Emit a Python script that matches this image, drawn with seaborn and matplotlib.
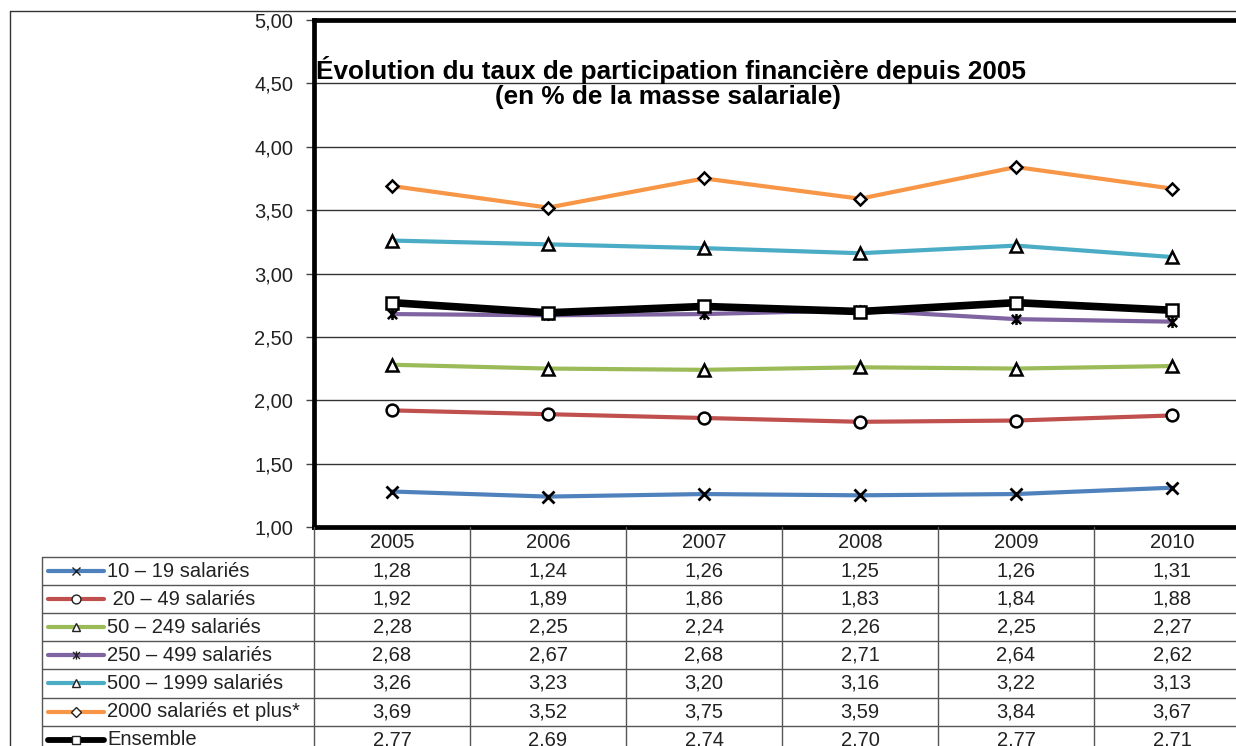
import numpy as np
import pandas as pd
import matplotlib
matplotlib.use("Agg")
import matplotlib.pyplot as plt
import seaborn as sns
from matplotlib.lines import Line2D
from matplotlib.path import Path
from matplotlib.transforms import blended_transform_factory

# ---- data -------------------------------------------------------------
years = ["2005", "2006", "2007", "2008", "2009", "2010"]

taux_10_19 = [1.28, 1.24, 1.26, 1.25, 1.26, 1.31]
taux_20_49 = [1.92, 1.89, 1.86, 1.83, 1.84, 1.88]
taux_50_249 = [2.28, 2.25, 2.24, 2.26, 2.25, 2.27]
taux_250_499 = [2.68, 2.67, 2.68, 2.71, 2.64, 2.62]
taux_500_1999 = [3.26, 3.23, 3.20, 3.16, 3.22, 3.13]
taux_2000_plus = [3.69, 3.52, 3.75, 3.59, 3.84, 3.67]
taux_ensemble = [2.77, 2.69, 2.74, 2.70, 2.77, 2.71]

series_labels = ["10 – 19 salariés", " 20 – 49 salariés", "50 – 249 salariés",
                 "250 – 499 salariés", "500 – 1999 salariés",
                 "2000 salariés et plus*", "Ensemble"]
series_values = [taux_10_19, taux_20_49, taux_50_249, taux_250_499,
                 taux_500_1999, taux_2000_plus, taux_ensemble]

ytick_values = [1.0, 1.5, 2.0, 2.5, 3.0, 3.5, 4.0, 4.5, 5.0]
ytick_labels = ["1,00", "1,50", "2,00", "2,50", "3,00", "3,50", "4,00", "4,50", "5,00"]

title_line1 = "Évolution du taux de participation financière depuis 2005"
title_line2 = "(en % de la masse salariale)"

# star marker: an X crossed by a vertical bar
star_marker = Path([(-1, -1), (1, 1), (-1, 1), (1, -1), (0, -1.2), (0, 1.2)],
                   [Path.MOVETO, Path.LINETO, Path.MOVETO, Path.LINETO,
                    Path.MOVETO, Path.LINETO])

# ---- styles -------------------------------------------------------------
styles = [
    dict(color="#4F81BD", lw=3.0, marker="x", ms=8, mfc="none", mew=2.0),
    dict(color="#C0504D", lw=3.0, marker="o", ms=8.5, mfc="white", mew=1.8),
    dict(color="#9BBB59", lw=3.0, marker="^", ms=8.5, mfc="white", mew=1.8),
    dict(color="#8064A2", lw=3.0, marker=star_marker, ms=8, mfc="none", mew=1.8),
    dict(color="#4BACC6", lw=3.0, marker="^", ms=8.5, mfc="white", mew=1.8),
    dict(color="#F79646", lw=3.0, marker="D", ms=6.5, mfc="white", mew=1.8),
    dict(color="black", lw=5.5, marker="s", ms=8.5, mfc="white", mew=1.8),
]

sns.set_theme(style="white")
plt.rcParams["font.family"] = ["Liberation Sans", "DejaVu Sans"]

W, H = 1236, 746
fig = plt.figure(figsize=(W / 100, H / 100), dpi=100)
fig.patch.set_facecolor("white")


def fx(px):
    return px / W


def fy(py):
    return 1 - py / H


ax = fig.add_axes([fx(314), fy(527), 936 / W, 507 / H])

xpos = np.arange(len(years))
for vals, st, z in zip(series_values, styles, range(3, 10)):
    df = pd.DataFrame({"annee": xpos, "taux": vals})
    sns.lineplot(data=df, x="annee", y="taux", ax=ax, color=st["color"],
                 linewidth=st["lw"], marker=st["marker"], markersize=st["ms"],
                 markerfacecolor=st["mfc"], markeredgecolor="black",
                 markeredgewidth=st["mew"], legend=False, zorder=z)

ax.set_xlim(-0.5, len(years) - 0.5)
ax.set_ylim(1, 5)
ax.set_xticks([])
ax.set_yticks(ytick_values)
ax.set_yticklabels(ytick_labels)
ax.set_xlabel("")
ax.set_ylabel("")
ax.yaxis.grid(True, color="#333333", linewidth=1.0)
ax.set_axisbelow(True)
for side in ["left", "top", "bottom"]:
    ax.spines[side].set_linewidth(3.4)
    ax.spines[side].set_color("black")
ax.spines["right"].set_visible(False)
ax.tick_params(axis="y", left=True, length=6, width=1, color="#444444",
               pad=9, labelsize=14.5, labelcolor="#222222")

# title inside the plot area
fig.text(fx(671), fy(70), title_line1, ha="center", va="center",
         fontsize=18.8, fontweight="bold", color="black")
fig.text(fx(668), fy(97), title_line2, ha="center", va="center",
         fontsize=18.8, fontweight="bold", color="black")

# outer frame of the chart area
line_kw = dict(color="#333333", linewidth=1.0)
fig.add_artist(Line2D([fx(10), 1], [fy(11), fy(11)], transform=fig.transFigure, **line_kw))
fig.add_artist(Line2D([fx(10), fx(10)], [fy(11), 0], transform=fig.transFigure, **line_kw))

# ---- data table under the plot ---------------------------------------------
trans = blended_transform_factory(ax.transData, fig.transFigure)
tab_kw = dict(color="#555555", linewidth=1.0)
header_y = fy(543)
row_top = 557
row_h = 28.1
n_rows = len(series_labels)

for b in np.arange(-0.5, len(years), 1.0):
    fig.add_artist(Line2D([b, b], [fy(527), 0], transform=trans, **tab_kw))
fig.add_artist(Line2D([fx(42), fx(42)], [fy(row_top), 0], transform=fig.transFigure, **tab_kw))
for i in range(n_rows):
    yb = row_top + i * row_h
    fig.add_artist(Line2D([fx(42), 1], [fy(yb), fy(yb)], transform=fig.transFigure, **tab_kw))

for i, yr in enumerate(years):
    fig.text(i, header_y, yr, transform=trans, ha="center", va="center",
             fontsize=14.5, color="#222222")

for r, (lab, vals, st) in enumerate(zip(series_labels, series_values, styles)):
    yc = fy(row_top + (r + 0.5) * row_h)
    key_lw = 4.2 if st["color"] == "black" else 3.0
    fig.add_artist(Line2D([fx(48), fx(104)], [yc, yc], transform=fig.transFigure,
                          color=st["color"], linewidth=key_lw, solid_capstyle="round"))
    fig.add_artist(Line2D([fx(76)], [yc], transform=fig.transFigure, linestyle="none",
                          marker=st["marker"], markersize=st["ms"] * 0.75,
                          markerfacecolor="white" if st["mfc"] != "none" else "none",
                          markeredgecolor="#222222", markeredgewidth=1.0))
    fig.text(fx(107), yc, lab, ha="left", va="center", fontsize=14.5, color="#222222")
    for i, v in enumerate(vals):
        fig.text(i, yc, f"{v:.2f}".replace(".", ","), transform=trans,
                 ha="center", va="center", fontsize=14.5, color="#222222")

fig.savefig("out.png", dpi=100, facecolor="white")
